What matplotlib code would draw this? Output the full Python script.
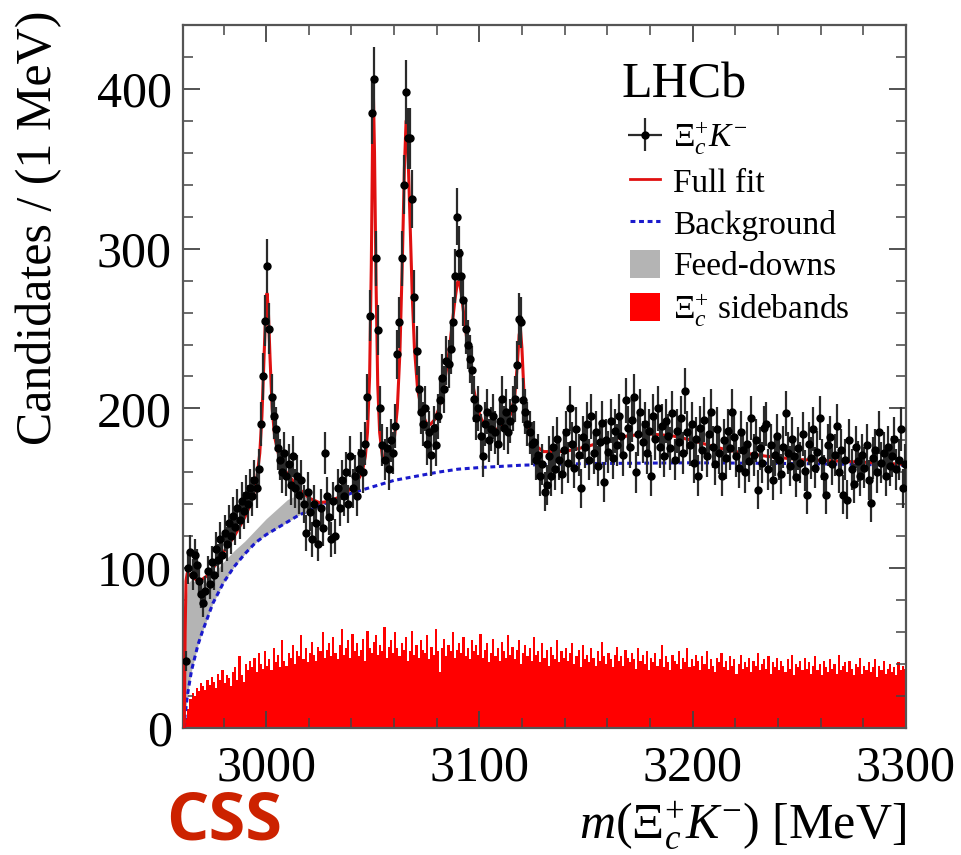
import numpy as np
import matplotlib
matplotlib.use("Agg")
import matplotlib.pyplot as plt
from matplotlib.patches import Patch
from matplotlib.lines import Line2D
from matplotlib.ticker import MultipleLocator

plt.rcParams['font.family'] = ['Liberation Serif', 'DejaVu Serif']
plt.rcParams['mathtext.fontset'] = 'custom'
plt.rcParams['mathtext.rm'] = 'Liberation Serif'
plt.rcParams['mathtext.it'] = 'Liberation Serif:italic'
plt.rcParams['mathtext.bf'] = 'Liberation Serif:bold'

# ---------------- data (1 MeV bins, first bin starts at 2962 MeV) ----------------
first_bin = 2962
counts = [
    42, 100, 110, 96, 108, 102, 92, 84, 78, 86,
    98, 90, 104, 96, 112, 105, 118, 108, 122, 115,
    128, 120, 133, 126, 138, 130, 142, 136, 146, 140,
    150, 145, 155, 150, 162, 190, 220, 255, 289, 250,
    207, 195, 187, 175,
    168, 160, 172, 158, 165, 152, 170, 150, 158, 146,
    155, 140, 122, 148, 135, 118, 140, 128, 115, 138,
    125, 172, 145, 132, 118, 142, 120, 150, 138, 155,
    145, 160, 140, 170, 150, 158, 145, 162, 172, 160,
    178,
    207, 258, 385, 406, 294, 249, 200, 177, 168, 175,
    162, 180, 172, 189, 234, 254, 294, 340, 398, 369,
    369, 331, 270, 236, 212, 198,
    190, 200, 178, 185, 171, 188, 177, 195, 205, 219,
    212, 230, 228, 237, 254, 283, 320, 297, 283, 268,
    250, 240, 231, 224, 206, 194, 200, 183, 170, 190,
    198, 180, 187, 195, 185, 178, 192, 206, 188, 198,
    185, 192, 200, 206, 227, 256, 254, 205, 198, 190,
    185, 178, 179, 168, 171, 158,
    165, 148, 152, 170, 158, 176, 162, 181, 168, 159,
    174, 185, 166, 200, 178, 163, 187, 171, 150, 182,
    176, 190, 168, 195, 172, 185, 164, 179, 191, 154,
    180, 173, 192, 169, 186, 177, 195, 183, 171, 205,
    188, 176, 193, 207, 160, 184, 198, 179, 190, 172,
    186, 158, 195, 181, 200, 176, 189, 170, 192, 183,
    175, 197, 168, 186, 179, 194, 172, 211, 185, 177,
    190, 166, 181, 158, 188, 174, 193, 170, 184, 198,
    176, 165, 187, 172, 158, 180, 169, 186, 175, 198,
    182, 170, 163, 185, 174, 160, 178, 167, 194, 171,
    180, 149, 175, 166, 188, 190, 162, 177, 155, 171,
    183, 168, 159, 176, 197, 172, 164, 181, 170, 157,
    175, 166, 184, 161, 146, 178, 169, 187, 163, 173,
    194, 168, 158, 146, 177, 182, 165, 171, 189, 160,
    174, 146, 168, 143, 180, 162, 153, 176, 167, 158,
    171, 163, 177, 155, 141, 169, 174, 160, 185, 166,
    172, 158, 176, 164, 170, 181, 162, 168, 187, 150,
    165,
]

# Xi_c+ sidebands histogram (same binning)
sideband = [
    6, 12, 18, 22, 20, 25, 23, 28, 26, 24,
    30, 27, 32, 29, 25, 34, 30, 36, 28, 33,
    31, 26, 35, 38, 30, 45, 33, 29, 40, 36,
    42, 38, 44, 35, 47, 40, 37, 48, 39, 43,
    36, 50, 41, 46, 38, 55, 42, 39, 47, 44,
    52, 40, 48, 45, 58, 43, 50, 41, 47, 54,
    46, 42, 51, 48, 60, 44, 49, 53, 45, 57,
    47, 43, 52, 62, 46, 50, 55, 44, 59, 48,
    53, 45, 49, 56, 42, 61, 50, 47, 54, 58,
    46, 52, 48, 63, 44, 51, 55, 47, 60, 50,
    45, 53, 49, 57, 42, 48, 61, 46, 52, 44,
    55, 49, 47, 58, 43, 51, 46, 62, 48, 35,
    50, 56, 45, 52, 48, 60, 44, 49, 53, 47,
    57, 45, 50, 43, 55, 48, 52, 46, 59, 44,
    49, 53, 41, 47, 56, 45, 50, 42, 54, 48,
    44, 58, 46, 51, 43, 49, 55, 40, 47, 52,
    45, 50, 42, 57, 46, 48, 41, 53, 44, 49,
    39, 51, 46, 43, 55, 41, 48, 44, 50, 42,
    47, 53, 40, 45, 49, 38, 52, 43, 46, 41,
    50, 44, 39, 48, 42, 54, 45, 40, 47, 43,
    38, 46, 51, 42, 45, 39, 49, 44, 41, 47,
    43, 37, 50, 42, 46, 40, 48, 36, 44, 41,
    47, 39, 43, 52, 38, 45, 41, 36, 46, 42,
    40, 48, 37, 44, 41, 50, 38, 43, 39, 46,
    42, 36, 45, 40, 48, 37, 43, 39, 35, 44,
    41, 47, 38, 42, 36, 45, 39, 43, 34, 40,
    46, 37, 41, 38, 44, 35, 42, 39, 47, 36,
    40, 43, 37, 45, 34, 41, 38, 44, 36, 42,
    39, 35, 43, 37, 46, 33, 40, 38, 42, 36,
    44, 37, 41, 34, 39, 45, 36, 40, 33, 42,
    38, 35, 43, 37, 40, 34, 46, 36, 39, 41,
    35, 42, 37, 33, 40, 38, 44, 34, 39, 36,
    41, 35, 38, 43, 32, 39, 36, 42, 34, 37,
    40, 35, 38, 33, 41, 36, 39, 37,
]

# Background curve
bkg_mass = [2961.6, 2962, 2963, 2965, 2968, 2970, 2975, 2980, 2985, 2990,
            2995, 3000, 3005, 3010, 3015, 3020, 3025, 3030, 3040, 3050,
            3060, 3070, 3080, 3090, 3100, 3120, 3150, 3200, 3250, 3300]
bkg_vals = [0, 8, 20, 36, 52, 60, 78, 91, 101, 109,
            116, 121, 125, 129, 133, 136, 139, 142, 147, 151,
            155, 157.5, 160, 162, 163, 164.5, 165.5, 166, 165.5, 164.5]

# Feed-down band: top edge (stacked on background) at the first bkg masses
feed_top = [0, 70, 90, 93, 90, 90, 96, 104, 111, 117,
            124, 131, 137, 143, 146, 144, 142, 142]

# Full fit curve
fit_mass = [2961.6, 2962.0, 2962.4, 2963, 2965, 2968, 2970, 2973, 2975, 2978,
            2980, 2983, 2985, 2988, 2990, 2992, 2994, 2995.5, 2997, 2998,
            2999, 2999.8, 3000.4, 3001.0, 3001.8, 3002.8, 3004, 3006, 3008, 3010,
            3013, 3016, 3020, 3025, 3030, 3035, 3040, 3043, 3045, 3046.5,
            3047.5, 3048.5, 3049.3, 3049.9, 3050.3, 3050.8, 3051.5, 3052.3, 3053.2, 3054.5,
            3056, 3058, 3060, 3061.5, 3062.7, 3063.8, 3064.8, 3065.6, 3066.5, 3067.5,
            3068.5, 3069.5, 3071, 3073, 3075, 3077, 3079, 3081, 3083, 3085,
            3087, 3088.5, 3089.7, 3090.5, 3091.5, 3093, 3095, 3097, 3099, 3101,
            3104, 3108, 3112, 3114.5, 3116.5, 3117.8, 3118.6, 3119.2, 3119.9, 3120.8,
            3122, 3124, 3127, 3130, 3140, 3150, 3160, 3170, 3180, 3190,
            3200, 3210, 3220, 3235, 3250, 3270, 3285, 3300]
fit_vals = [0, 60, 92, 97, 95, 92, 93, 96, 100, 105,
            110, 116, 120, 127, 132, 138, 146, 155, 172, 195,
            232, 262, 272, 262, 232, 200, 182, 170, 163, 159,
            154, 149, 144, 141, 142, 145, 150, 155, 160, 170,
            185, 220, 290, 370, 395, 360, 280, 215, 185, 170,
            166, 170, 180, 200, 235, 290, 350, 380, 360, 315,
            270, 238, 212, 198, 191, 190, 193, 200, 212, 228,
            250, 268, 279, 280, 272, 255, 233, 214, 201, 193,
            188, 187, 190, 196, 207, 228, 246, 250, 238, 212,
            193, 182, 176, 173, 173, 176, 180, 183, 184, 183,
            180, 176, 173, 170, 168, 167, 166, 165]

x_ticks = [3000, 3100, 3200, 3300]
y_ticks = [0, 100, 200, 300, 400]

# ---------------- figure ----------------
fig = plt.figure(figsize=(9.62, 8.55), dpi=100)
ax = fig.add_axes([183/962, 1-728/855, 723/962, 703/855])

n = len(counts)
edges = first_bin + np.arange(n + 1)
centers = edges[:-1] + 0.5
counts_a = np.array(counts, dtype=float)

xi = r'$\mathit{Ξ}_c^{+}$'
ax.stairs(sideband, edges, fill=True, color='#ff0000', zorder=1, label=xi + ' sidebands')
nf = len(feed_top)
ax.fill_between(bkg_mass[:nf], bkg_vals[:nf], feed_top, color='#b4b4b4', lw=0, zorder=2,
                label='Feed-downs')
ax.plot(bkg_mass, bkg_vals, color='#1a1acc', lw=2.2, ls=(0, (1.6, 1.2)), zorder=3, label='Background')
ax.plot(fit_mass, fit_vals, color='#e01010', lw=2.2, zorder=4, label='Full fit')
eb = ax.errorbar(centers, counts_a, yerr=np.sqrt(counts_a), xerr=0.5, fmt='o', ms=5,
                 mfc='black', mec='black', ecolor='#2a2a2a', elinewidth=1.6, capsize=0,
                 zorder=5, label=r'$\mathit{Ξ}_c^{+}K^{-}$')

ax.set_xlim(2961, 3300)
ax.set_ylim(0, 440)
ax.set_xticks(x_ticks)
ax.set_yticks(y_ticks)
ax.xaxis.set_minor_locator(MultipleLocator(20))
ax.yaxis.set_minor_locator(MultipleLocator(20))
ax.tick_params(which='both', direction='in', top=True, right=True, colors='#444444',
               labelcolor='black', labelsize=36)
ax.tick_params(which='major', length=12, width=1.3)
ax.tick_params(which='minor', length=7, width=1.1)
ax.tick_params(axis='x', pad=12)
ax.tick_params(axis='y', pad=8)
for s in ax.spines.values():
    s.set_color('#555555')
    s.set_linewidth(1.6)

ax.set_ylabel('Candidates / (1 MeV)', fontsize=36, loc='top')
ax.yaxis.set_label_coords(-0.167, 1.02)
ax.set_xlabel(r'$m(\mathit{Ξ}_c^{+}K^{-})$ [MeV]', fontsize=36, loc='right')
ax.xaxis.set_label_coords(1.0, -0.103)

fig.text(622/962, 1-85/855, 'LHCb', fontsize=36, va='center', ha='left')

handles = [eb, Line2D([], [], color='#e01010', lw=2.0),
           Line2D([], [], color='#1a1acc', lw=2.2, ls=(0, (1.6, 1.2))),
           Patch(facecolor='#b4b4b4', edgecolor='none'),
           Patch(facecolor='#ff0000', edgecolor='none')]
labels = [r'$\mathit{Ξ}_c^{+}K^{-}$', 'Full fit', 'Background', 'Feed-downs', xi + ' sidebands']
leg = ax.legend(handles, labels, loc='upper left', bbox_to_anchor=(630/962, 1-120/855),
                bbox_transform=fig.transFigure, frameon=False, fontsize=24,
                handlelength=0.9, handleheight=0.9, handletextpad=0.4,
                labelspacing=0.28, borderpad=0, borderaxespad=0)

fig.text(166/962, 0.0, 'CSS', fontsize=48, fontweight='bold', color='#cc2200',
         family=['Open Sans', 'DejaVu Sans'], ha='left', va='bottom')

fig.savefig('out.png', dpi=100)
